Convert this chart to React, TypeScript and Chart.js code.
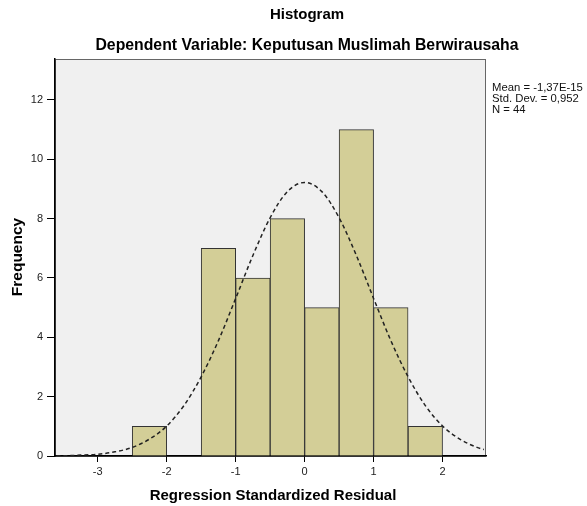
import React, { useEffect, useRef } from "react";
import { Chart, registerables } from "chart.js";

Chart.register(...registerables);

const binCenters = [-2.25, -1.75, -1.25, -0.75, -0.25, 0.25, 0.75, 1.25, 1.75];
const frequencies = [1, 0, 7, 6, 8, 5, 11, 5, 1];

const curveX = [-3.6, -3.5, -3.25, -3, -2.75, -2.5, -2.25, -2, -1.75, -1.5, -1.25, -1, -0.75, -0.5, -0.25, 0, 0.25, 0.5, 0.75, 1, 1.25, 1.5, 1.75, 2, 2.25, 2.5, 2.6];
const curveY = [0.01, 0.01, 0.03, 0.06, 0.14, 0.29, 0.57, 1.01, 1.7, 2.67, 3.89, 5.31, 6.76, 8.03, 8.91, 9.22, 8.91, 8.03, 6.76, 5.31, 3.89, 2.67, 1.7, 1.01, 0.57, 0.29, 0.22];

const xTicks = [-3, -2, -1, 0, 1, 2];
const yTicks = [0, 2, 4, 6, 8, 10, 12];

const titleText = "Histogram";
const subtitleText = "Dependent Variable: Keputusan Muslimah Berwirausaha";
const xTitle = "Regression Standardized Residual";
const yTitle = "Frequency";
const statsLines = ["Mean = -1,37E-15", "Std. Dev. = 0,952", "N = 44"];

const FONT = 'Arial, "Liberation Sans", sans-serif';

const decorPlugin = {
  id: "decor",
  beforeDraw(chart: any) {
    const { ctx, chartArea: a } = chart;
    ctx.save();
    ctx.fillStyle = "#f0f0f0";
    ctx.fillRect(a.left, a.top, a.right - a.left, a.bottom - a.top);
    ctx.strokeStyle = "#666666";
    ctx.lineWidth = 1;
    ctx.strokeRect(a.left + 0.5, a.top + 0.5, a.right - a.left - 1, a.bottom - a.top);
    ctx.restore();
  },
  afterDraw(chart: any) {
    const { ctx, chartArea: a } = chart;
    ctx.save();
    ctx.fillStyle = "#000";
    ctx.textAlign = "center";
    ctx.textBaseline = "middle";
    ctx.font = `bold 15px ${FONT}`;
    ctx.fillText(titleText, 307, 15);
    ctx.font = `bold 15.8px ${FONT}`;
    ctx.fillText(subtitleText, 307, 46);
    ctx.font = `bold 15px ${FONT}`;
    ctx.fillText(xTitle, 273, 496);
    ctx.save();
    ctx.translate(18, 257);
    ctx.rotate(-Math.PI / 2);
    ctx.font = `bold 15.5px ${FONT}`;
    ctx.fillText(yTitle, 0, 0);
    ctx.restore();
    ctx.textAlign = "left";
    ctx.font = `11.3px ${FONT}`;
    ctx.fillStyle = "#111";
    statsLines.forEach((s, i) => ctx.fillText(s, 492, 88 + i * 11));
    ctx.restore();
  },
};

export default function App() {
  const ref = useRef<HTMLCanvasElement | null>(null);
  useEffect(() => {
    if (!ref.current) return;
    const chart = new Chart(ref.current, {
      type: "bar",
      data: {
        datasets: [
          {
            type: "line",
            data: curveX.map((x, i) => ({ x, y: curveY[i] })),
            borderColor: "#222",
            borderWidth: 1.5,
            borderDash: [4, 3],
            pointRadius: 0,
            cubicInterpolationMode: "monotone",
            fill: false,
            order: 0,
          } as any,
          {
            type: "bar",
            data: binCenters.map((x, i) => ({ x, y: frequencies[i] })),
            backgroundColor: "#d3ce97",
            borderColor: "#333",
            borderWidth: 1,
            borderSkipped: "bottom",
            barPercentage: 1,
            categoryPercentage: 1,
            grouped: false,
            order: 1,
          } as any,
        ],
      },
      options: {
        animation: false,
        responsive: false,
        devicePixelRatio: 1,
        layout: { padding: { left: 0, top: 59, right: 101, bottom: 0 } },
        plugins: { legend: { display: false }, tooltip: { enabled: false }, title: { display: false } },
        scales: {
          x: {
            type: "linear",
            offset: false,
            min: -3.62,
            max: 2.63,
            afterBuildTicks: (s: any) => {
              s.ticks = xTicks.map((v) => ({ value: v }));
            },
            afterFit: (s: any) => {
              s.height = 50;
            },
            grid: { offset: false, drawOnChartArea: false, drawTicks: true, tickLength: 6, color: "#000", lineWidth: 1 },
            border: { display: true, color: "#000", width: 1.5 },
            ticks: { font: { family: FONT, size: 11 }, color: "#222", padding: 3, maxRotation: 0 },
          },
          y: {
            type: "linear",
            min: 0,
            max: 13.38,
            afterBuildTicks: (s: any) => {
              s.ticks = yTicks.map((v) => ({ value: v }));
            },
            afterFit: (s: any) => {
              s.width = 55;
            },
            grid: { drawOnChartArea: false, drawTicks: true, tickLength: 8, color: "#000", lineWidth: 1 },
            border: { display: true, color: "#000", width: 1.5 },
            ticks: { font: { family: FONT, size: 11 }, color: "#222", padding: 4 },
          },
        },
      } as any,
      plugins: [decorPlugin],
    });
    return () => chart.destroy();
  }, []);
  return (
    <div style={{ position: "fixed", left: 0, top: 0, width: 587, height: 506, background: "#fff" }}>
      <canvas ref={ref} width={587} height={506} style={{ display: "block" }} />
    </div>
  );
}
